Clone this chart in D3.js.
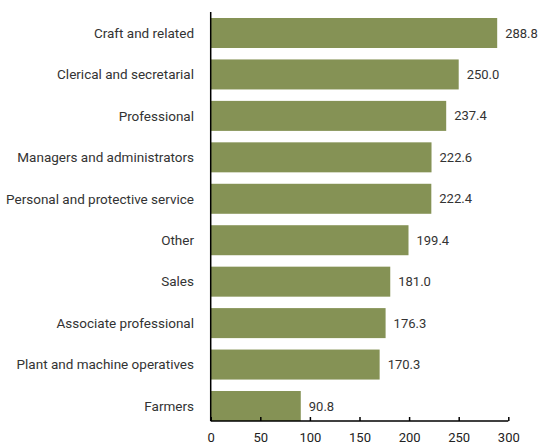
<!DOCTYPE html>
<html><head><meta charset="utf-8">
<script src="https://cdn.jsdelivr.net/npm/d3@7"></script>
<style>body{margin:0;background:#fff}svg{display:block}</style>
</head><body>
<script>
const categories = ["Craft and related","Clerical and secretarial","Professional","Managers and administrators","Personal and protective service","Other","Sales","Associate professional","Plant and machine operatives","Farmers"];
const values = [288.8,250.0,237.4,222.6,222.4,199.4,181.0,176.3,170.3,90.8];
const valueLabels = ["288.8","250.0","237.4","222.6","222.4","199.4","181.0","176.3","170.3","90.8"];
const xTicks = [0,50,100,150,200,250,300];

const W=539,H=446;
const svg=d3.select("body").append("svg").attr("width",W).attr("height",H);
const font="Roboto, sans-serif";
const x=d3.scaleLinear().domain([0,300]).range([210.7,508.3]);
const y=d3.scaleBand().domain(categories).range([18,421]).paddingInner(0.276).paddingOuter(0);

svg.selectAll("rect.bar").data(values).join("rect").attr("class","bar")
  .attr("x",x(0)).attr("y",(d,i)=>y(categories[i]))
  .attr("width",d=>x(d)-x(0)).attr("height",y.bandwidth())
  .attr("fill","#859255");

// y axis line
svg.append("line").attr("x1",x(0)).attr("x2",x(0)).attr("y1",12).attr("y2",421)
  .attr("stroke","#000").attr("stroke-width",1.5);

// x axis
const xa=svg.append("g").attr("transform","translate(0,421)")
  .call(d3.axisBottom(x).tickValues(xTicks).tickSize(-4).tickPadding(12).tickFormat(d3.format("d")));
xa.select(".domain").attr("stroke","#000").attr("stroke-width",1.5).attr("d",`M${x(0)},0H${x(300)}`);
xa.selectAll(".tick line").attr("stroke","#000").attr("stroke-width",1.5);
xa.selectAll("text").attr("font-family",font).attr("font-size",13).attr("fill","#222");

// category labels
svg.selectAll("text.cat").data(categories).join("text").attr("class","cat")
  .attr("x",194).attr("y",d=>y(d)+y.bandwidth()/2).attr("dy","0.35em")
  .attr("text-anchor","end").attr("font-family",font).attr("font-size",13.5).attr("fill","#333")
  .text(d=>d);

// value labels
svg.selectAll("text.val").data(values).join("text").attr("class","val")
  .attr("x",d=>x(d)+8).attr("y",(d,i)=>y(categories[i])+y.bandwidth()/2).attr("dy","0.35em")
  .attr("font-family",font).attr("font-size",13).attr("fill","#333")
  .text((d,i)=>valueLabels[i]);
</script>
</body></html>
